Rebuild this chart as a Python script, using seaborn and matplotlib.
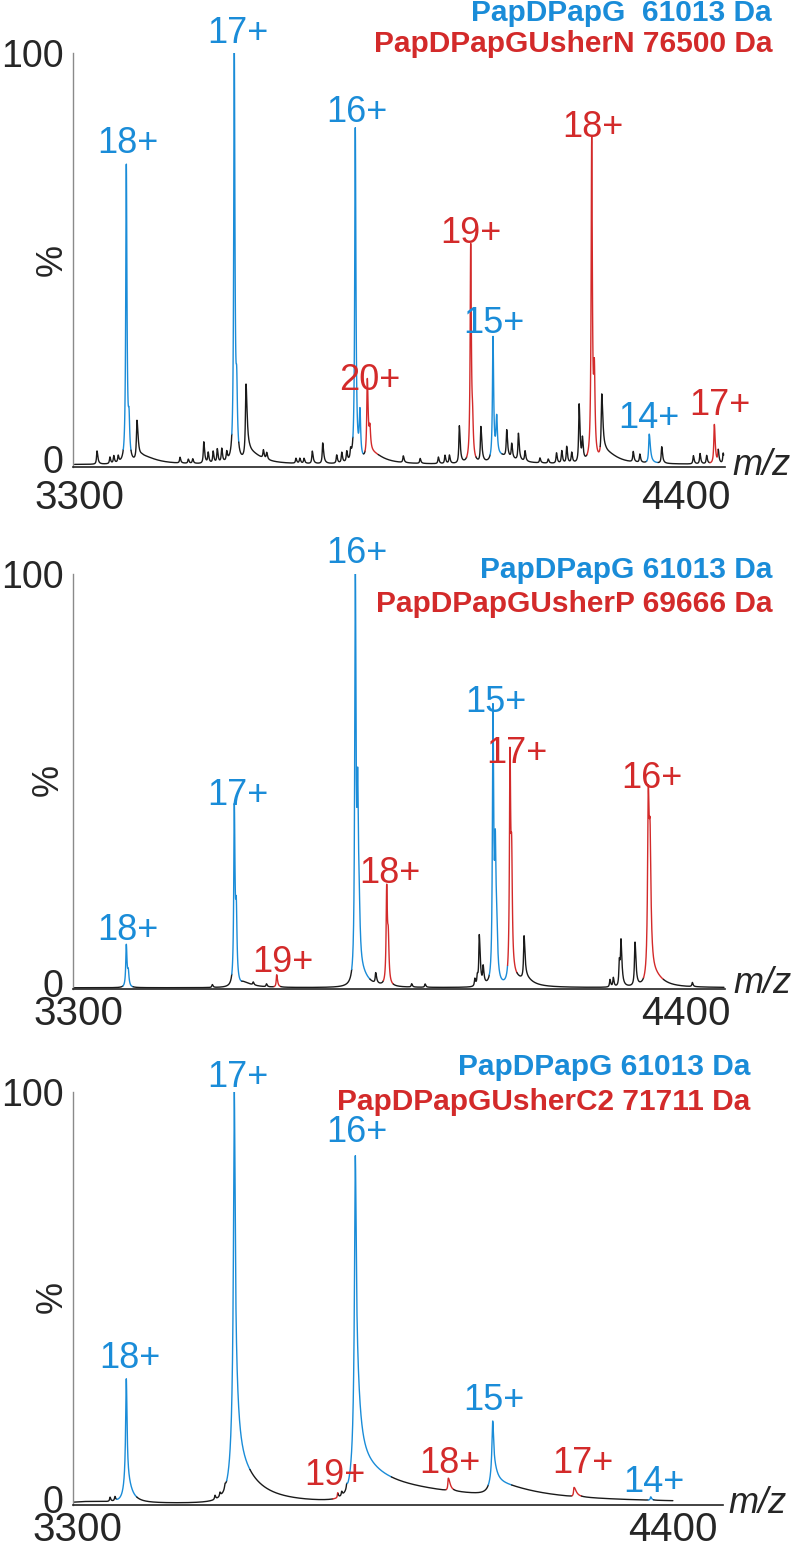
import numpy as np
import pandas as pd
import matplotlib.pyplot as plt
import matplotlib.transforms as mtransforms
import seaborn as sns

sns.set_style("white")
plt.rcParams["font.family"] = ["Liberation Sans", "DejaVu Sans"]

BLUE = "#1a8cd8"
RED = "#d32a2a"
LINE_COLORS = {"k": "#1a1a1a", "b": BLUE, "r": RED}

MZ_TICKS = [3300, 4400]
Y_TICKS = [0, 50, 100]

# ---------------- panel 1: PapDPapG + PapDPapGUsherN ----------------
P1_RANGE = (3292, 4468)
P1_BASE = 0.6
P1_CENTER = [3332.6, 3356, 3363, 3371, 3385.7, 3390.6, 3405, 3415, 3483, 3498,
             3506, 3526, 3534, 3543, 3550.5, 3558.5, 3567.5, 3581.3, 3585.7, 3602.5,
             3610, 3634, 3640, 3693, 3700, 3707.6, 3722.6, 3741.5, 3766.8, 3776,
             3785, 3792, 3800.5, 3809, 3822.3, 3827, 3830, 3887.5, 3918, 3951,
             3963, 3971, 3989, 4009.6, 4013, 4028, 4050, 4056.7, 4060, 4074.8,
             4083.9, 4096, 4108, 4135, 4150, 4165, 4174.5, 4183.5, 4192.5, 4206,
             4212, 4228.8, 4233.6, 4247, 4255, 4304, 4316, 4333, 4355.6, 4413,
             4425, 4437, 4451, 4458, 4467]
P1_HEIGHT = [3.2, 1.6, 1.8, 1.6, 72, 8, 9.5, 1.8, 1.4, 1.0,
             1.1, 5.2, 2.5, 2.8, 3.3, 3.3, 2.2, 99, 14, 17.5,
             2.5, 2.0, 1.6, 1.2, 1.2, 1.2, 3.0, 5.0, 2.0, 2.5,
             2.5, 2.2, 81, 11, 18.5, 5, 2.5, 1.6, 1.2, 1.6,
             2.0, 2.0, 9.0, 52, 7, 8.5, 29.5, 9, 2.0, 6.5,
             3.5, 6.5, 2.5, 1.2, 1.0, 2.5, 3.0, 4.0, 2.5, 14,
             5, 77, 19, 15, 2.5, 2.5, 2.0, 7, 4.0, 2.0,
             2.5, 2.0, 9.5, 3.0, 2.5]
P1_WL = [1.0, 1.0, 1.0, 1.0, 1.2, 1.5, 1.2, 8, 1.0, 1.0,
         1.0, 1.0, 1.0, 1.0, 1.0, 1.0, 1.0, 1.2, 1.5, 1.2,
         8, 1.0, 1.0, 1.0, 1.0, 1.0, 1.0, 1.0, 1.0, 1.0,
         1.0, 1.0, 1.2, 1.5, 1.2, 1.5, 8, 1.0, 1.0, 1.0,
         1.0, 1.0, 1.0, 1.2, 1.5, 1.0, 1.2, 1.5, 8, 1.0,
         1.0, 1.0, 1.0, 1.0, 1.0, 1.0, 1.0, 1.0, 1.0, 1.0,
         1.0, 1.2, 1.5, 1.2, 8, 1.0, 1.0, 1.2, 1.0, 1.0,
         1.0, 1.0, 1.2, 1.0, 1.0]
P1_WR = [1.8, 1.5, 1.5, 1.5, 1.4, 1.5, 2.5, 30, 1.5, 1.5,
         1.5, 1.8, 1.6, 1.6, 1.6, 1.6, 1.6, 1.4, 1.5, 2.5,
         25, 1.6, 1.6, 1.6, 1.6, 1.6, 1.8, 2.0, 1.6, 1.6,
         1.6, 1.6, 1.4, 1.5, 1.8, 1.5, 25, 1.6, 1.6, 1.6,
         1.6, 1.6, 1.8, 1.4, 1.5, 2.0, 1.4, 1.5, 30, 1.8,
         1.6, 1.8, 1.6, 1.6, 1.6, 1.6, 1.6, 1.6, 1.6, 1.8,
         1.6, 1.4, 1.5, 2.5, 25, 1.6, 1.6, 2.5, 1.8, 1.6,
         1.6, 1.6, 1.8, 1.6, 1.6]
P1_SEG_LO = [3380, 3576.6, 3796, 3818, 4002, 4044.6, 4220, 4328, 4443]
P1_SEG_HI = [3394, 3589.3, 3815, 3842, 4019, 4066, 4244, 4349, 4458]
P1_SEG_COL = ["b", "b", "b", "r", "r", "b", "r", "b", "r"]
P1_ION = ["18+", "17+", "16+", "20+", "19+", "15+", "18+", "14+", "17+"]
P1_ION_COL = ["b", "b", "b", "r", "r", "b", "r", "b", "r"]
P1_ION_X = [3387.9, 3588, 3803.6, 3827, 4010, 4052, 4231, 4332.6, 4461]
P1_ION_Y = [75.8, 102.4, 83.3, 18.6, 54.1, 32.4, 79.7, 9.4, 12.6]
P1_LEGEND = ["PapDPapG  61013 Da", "PapDPapGUsherN 76500 Da"]

# ---------------- panel 2: PapDPapG + PapDPapGUsherP ----------------
P2_RANGE = (3292, 4469)
P2_BASE = 0.3
P2_CENTER = [3387.4, 3391, 3543, 3582.8, 3586.4, 3600, 3617, 3641, 3659.5, 3801.7,
             3806, 3808.5, 3812, 3838.6, 3858.5, 3861.4, 3903.7, 3928, 4018, 4022.5,
             4026, 4033, 4050.8, 4055, 4057.5, 4081.6, 4084.6, 4090, 4107, 4110,
             4262.5, 4268.5, 4279.4, 4282.4, 4307.8, 4331.8, 4335, 4340, 4411.5]
P2_HEIGHT = [10, 3.2, 0.7, 42, 15.5, 1.0, 0.7, 0.7, 3.0, 99,
             38, 12, 3, 2.5, 22.5, 9.5, 0.8, 0.8, 1.8, 2.2,
             12, 4.0, 64.5, 28, 10, 52, 25, 2, 10, 1.2,
             1.8, 2.2, 6.0, 10, 10.5, 41, 27, 3, 1.0]
P2_WL = [1.2, 1.5, 1.0, 1.2, 1.5, 6, 1.0, 1.0, 1.0, 1.2,
         1.5, 1.5, 5, 1.0, 1.2, 1.5, 1.0, 1.0, 1.0, 1.0,
         1.0, 1.0, 1.2, 1.5, 1.5, 1.2, 1.5, 5, 1.0, 6,
         1.0, 1.0, 1.0, 1.0, 1.2, 1.5, 1.8, 6, 1.0]
P2_WR = [1.5, 1.5, 1.5, 1.5, 1.5, 20, 1.5, 1.5, 1.8, 1.5,
         1.5, 2.0, 15, 2.0, 1.5, 1.5, 1.5, 1.5, 1.5, 1.5,
         2.0, 1.8, 1.5, 1.5, 2.0, 1.5, 1.5, 20, 2.0, 15,
         1.5, 1.5, 1.8, 2.0, 2.0, 2.0, 2.0, 20, 1.5]
P2_SEG_LO = [3381, 3578, 3654.6, 3795, 3852.4, 4044, 4077, 4323]
P2_SEG_HI = [3399.5, 3596, 3666.7, 3828, 3870.5, 4077, 4094, 4359]
P2_SEG_COL = ["b", "b", "r", "b", "r", "b", "r", "r"]
P2_ION = ["18+", "17+", "19+", "16+", "18+", "15+", "17+", "16+"]
P2_ION_COL = ["b", "b", "r", "b", "r", "b", "r", "r"]
P2_ION_X = [3389.6, 3589.5, 3671, 3804.8, 3864.5, 4056, 4094, 4338.5]
P2_ION_Y = [11.8, 44.3, 4.1, 102.7, 25.5, 66.7, 54.5, 48.4]
P2_LEGEND = ["PapDPapG 61013 Da", "PapDPapGUsherP 69666 Da"]

# ---------------- panel 3: PapDPapG + PapDPapGUsherC2 ----------------
P3_RANGE = (3294, 4400)
P3_BASE = 0.3
P3_CENTER = [3320, 3361, 3370, 3391, 3391, 3554.7, 3563.9, 3573.2, 3590.3, 3590.3,
             3590.3, 3590.3, 3781.2, 3788.6, 3797.8, 3813.7, 3813.7, 3813.7, 3813.7, 3985.3,
             4067.3, 4067.3, 4067.3, 4217.3, 4358.9]
P3_HEIGHT = [0.5, 1.0, 1.0, 24, 6, 1.0, 1.0, 1.0, 65, 25,
             7, 3, 1.2, 1.0, 1.0, 47, 27, 6, 4, 3,
             10, 5, 3, 2.2, 0.8]
P3_WL = [40, 1.0, 1.0, 1.4, 5, 1.0, 1.0, 1.0, 1.5, 4,
         8, 10, 0.8, 1.0, 1.0, 1.5, 3, 8, 8, 1.0,
         1.5, 3, 8, 1.0, 1.0]
P3_WR = [60, 1.5, 1.5, 1.6, 10, 1.5, 1.5, 1.5, 1.8, 7,
         35, 60, 1.5, 1.5, 1.5, 1.8, 8, 50, 220, 4,
         1.8, 8, 80, 5, 2]
P3_SEG_LO = [3373, 3576, 3772, 3798, 3981, 4059, 4213, 4354]
P3_SEG_HI = [3410, 3619, 3782, 3880, 3995, 4102, 4231, 4364]
P3_SEG_COL = ["b", "b", "r", "b", "r", "b", "r", "b"]
P3_ION = ["18+", "17+", "19+", "16+", "18+", "15+", "17+", "14+"]
P3_ION_COL = ["b", "b", "r", "b", "r", "b", "r", "b"]
P3_ION_X = [3397.8, 3597, 3776.2, 3816.8, 3988.4, 4069.7, 4234, 4365]
P3_ION_Y = [33.2, 101.2, 4.8, 87.9, 7.7, 23, 7.7, 3.1]
P3_LEGEND = ["PapDPapG 61013 Da", "PapDPapGUsherC2 71711 Da"]

W, H = 798, 1544


def spectrum(mz_range, base, center, height, wl, wr):
    mz = np.arange(mz_range[0], mz_range[1], 0.2)
    y = np.full_like(mz, base)
    for c, h, a, b in zip(center, height, wl, wr):
        w = np.where(mz < c, a, b)
        y += h / (1 + ((mz - c) / w) ** 2)
    return mz, y


def coloured_frame(mz, y, lo, hi, cols):
    colour = np.array(["k"] * len(mz), dtype=object)
    for a, b, c in zip(lo, hi, cols):
        colour[(mz >= a) & (mz <= b)] = c
    change = np.flatnonzero(colour[1:] != colour[:-1]) + 1
    starts = np.r_[0, change]
    ends = np.r_[change, len(mz)]
    frames = []
    for i, (s, e) in enumerate(zip(starts, ends)):
        e2 = min(e + 1, len(mz))
        frames.append(pd.DataFrame({"mz": mz[s:e2], "y": y[s:e2], "seg": i, "col": colour[s]}))
    return pd.concat(frames, ignore_index=True)


def fx(px):
    return px / W


def fy(py):
    return 1 - py / H


PANELS = [
    dict(box=(73, 725, 53, 467), mz0=(79, 0.552), data=(P1_RANGE, P1_BASE, P1_CENTER, P1_HEIGHT, P1_WL, P1_WR),
         seg=(P1_SEG_LO, P1_SEG_HI, P1_SEG_COL), ions=(P1_ION, P1_ION_COL, P1_ION_X, P1_ION_Y),
         legend=P1_LEGEND, leg_pos=(772, 21, 52), mz_pos=(732, 475), pct=(52, 260), xpad=4.5, zero_up=8),
    dict(box=(73, 725, 574, 989), mz0=(78, 0.5527), data=(P2_RANGE, P2_BASE, P2_CENTER, P2_HEIGHT, P2_WL, P2_WR),
         seg=(P2_SEG_LO, P2_SEG_HI, P2_SEG_COL), ions=(P2_ION, P2_ION_COL, P2_ION_X, P2_ION_Y),
         legend=P2_LEGEND, leg_pos=(772, 578, 612), mz_pos=(733, 993), pct=(48, 780), xpad=0, zero_up=6),
    dict(box=(73, 723, 1092, 1505), mz0=(77, 0.5418), data=(P3_RANGE, P3_BASE, P3_CENTER, P3_HEIGHT, P3_WL, P3_WR),
         seg=(P3_SEG_LO, P3_SEG_HI, P3_SEG_COL), ions=(P3_ION, P3_ION_COL, P3_ION_X, P3_ION_Y),
         legend=P3_LEGEND, leg_pos=(750, 1075, 1110), mz_pos=(728, 1513), pct=(52, 1297), xpad=0, zero_up=6),
]

fig = plt.figure(figsize=(W / 100, H / 100), dpi=100)

for p in PANELS:
    left, right, top, bottom = p["box"]
    ax = fig.add_axes([fx(left), fy(bottom), (right - left) / W, (bottom - top) / H])
    mz, y = spectrum(*p["data"])
    df = coloured_frame(mz, y, *p["seg"])
    palette = {s: LINE_COLORS[c] for s, c in df.groupby("seg")["col"].first().items()}
    sns.lineplot(data=df, x="mz", y="y", hue="seg", palette=palette, estimator=None,
                 sort=False, linewidth=1.0, legend=False, ax=ax)

    px3300, scale = p["mz0"]
    ax.set_xlim(3300 - (px3300 - left) / scale, 3300 + (right - px3300) / scale)
    ax.set_ylim(0, 100)
    ax.set_xticks(MZ_TICKS)
    ax.set_xticklabels([str(t) for t in MZ_TICKS], fontsize=29)
    ax.set_yticks(Y_TICKS)
    ax.set_yticklabels(["0", "", "100"], fontsize=27)
    ax.set_xlabel("")
    ax.set_ylabel("")
    ax.tick_params(axis="x", direction="out", length=4, width=0.8, color="#888888", pad=p["xpad"])
    ax.tick_params(axis="y", direction="out", length=3, width=0.8, color="#888888", pad=4)
    for side in ["top", "right"]:
        ax.spines[side].set_visible(False)
    ax.spines["left"].set_color("#8a8a8a")
    ax.spines["left"].set_linewidth(1.0)
    ax.spines["bottom"].set_color("#222222")
    ax.spines["bottom"].set_linewidth(1.2)

    # the "0" label sits a little above the baseline in the original
    zero = ax.get_yticklabels()[0]
    zero.set_transform(zero.get_transform()
                       + mtransforms.ScaledTranslation(0, p["zero_up"] / 100, fig.dpi_scale_trans))

    for lab, c, x, yy in zip(*p["ions"]):
        ax.text(x, yy, lab, color=LINE_COLORS[c], fontsize=26, ha="center", va="baseline", clip_on=False)

    rx, b1, b2 = p["leg_pos"]
    fig.text(fx(rx), fy(b1), p["legend"][0], color=BLUE, fontsize=21.5, fontweight="bold", ha="right", va="baseline")
    fig.text(fx(rx), fy(b2), p["legend"][1], color=RED, fontsize=21.5, fontweight="bold", ha="right", va="baseline")
    fig.text(fx(p["mz_pos"][0]), fy(p["mz_pos"][1]), "m/z", style="italic", fontsize=26, ha="left", va="baseline")
    fig.text(fx(p["pct"][0]), fy(p["pct"][1]), "%", rotation=90, fontsize=26, ha="center", va="center")

fig.savefig("out.png", dpi=100)
